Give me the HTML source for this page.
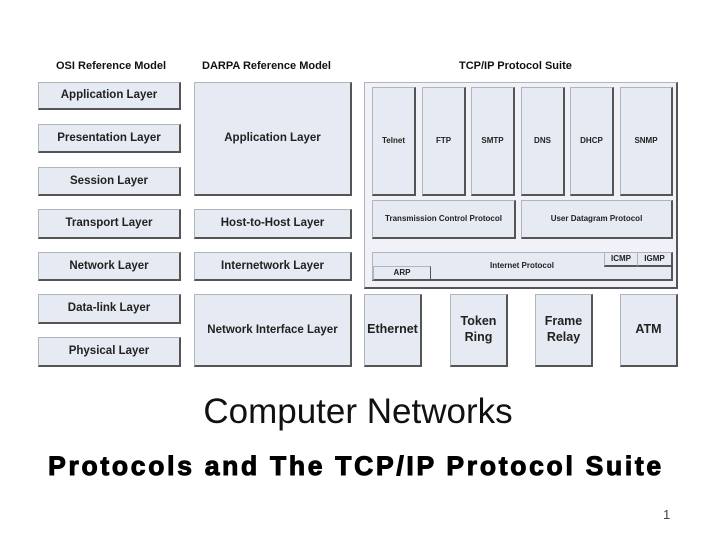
<!DOCTYPE html>
<html><head><style>
body{margin:0;width:720px;height:540px;background:#fff;position:relative;overflow:hidden;font-family:"Liberation Sans",Arial,sans-serif;}
.b{position:absolute;background:#e6eaf2;border:1px solid #b0b4bc;border-right:2px solid #555;border-bottom:2px solid #555;box-sizing:border-box;display:flex;align-items:center;justify-content:center;text-align:center;font-weight:bold;color:#222;font-size:11.5px;line-height:1.25;}
.s{font-size:8px;}
.m{font-size:12.5px;}
.t{position:absolute;font-weight:bold;font-size:11px;color:#111;}
</style></head><body>
<div class="t" style="left:56px;top:60px">OSI Reference Model</div>
<div class="t" style="left:202px;top:60px">DARPA Reference Model</div>
<div class="t" style="left:459px;top:60px">TCP/IP Protocol Suite</div>

<div class="b" style="left:38px;top:82px;width:143px;height:28px">Application Layer</div>
<div class="b" style="left:38px;top:124px;width:143px;height:29px">Presentation Layer</div>
<div class="b" style="left:38px;top:167px;width:143px;height:29px">Session Layer</div>
<div class="b" style="left:38px;top:209px;width:143px;height:30px">Transport Layer</div>
<div class="b" style="left:38px;top:252px;width:143px;height:29px">Network Layer</div>
<div class="b" style="left:38px;top:294px;width:143px;height:30px">Data-link Layer</div>
<div class="b" style="left:38px;top:337px;width:143px;height:30px">Physical Layer</div>

<div class="b" style="left:194px;top:82px;width:158px;height:114px">Application Layer</div>
<div class="b" style="left:194px;top:209px;width:158px;height:30px">Host-to-Host Layer</div>
<div class="b" style="left:194px;top:252px;width:158px;height:29px">Internetwork Layer</div>
<div class="b" style="left:194px;top:294px;width:158px;height:73px">Network Interface Layer</div>

<div class="b" style="left:364px;top:82px;width:314px;height:207px;background:#f0f2f7"></div>
<div class="b s" style="left:372px;top:87px;width:44px;height:109px">Telnet</div>
<div class="b s" style="left:422px;top:87px;width:44px;height:109px">FTP</div>
<div class="b s" style="left:471px;top:87px;width:44px;height:109px">SMTP</div>
<div class="b s" style="left:521px;top:87px;width:44px;height:109px">DNS</div>
<div class="b s" style="left:570px;top:87px;width:44px;height:109px">DHCP</div>
<div class="b s" style="left:620px;top:87px;width:53px;height:109px">SNMP</div>
<div class="b s" style="left:372px;top:200px;width:144px;height:39px">Transmission Control Protocol</div>
<div class="b s" style="left:521px;top:200px;width:152px;height:39px">User Datagram Protocol</div>
<div class="b s" style="left:372px;top:252px;width:301px;height:29px">Internet Protocol</div>
<div class="b s" style="left:604px;top:252px;width:34px;height:15px;border-right:1px solid #555">ICMP</div>
<div class="b s" style="left:637px;top:252px;width:36px;height:15px">IGMP</div>
<div class="b s" style="left:373px;top:266px;width:58px;height:15px;border-right:1px solid #555">ARP</div>

<div class="b m" style="left:364px;top:294px;width:58px;height:73px">Ethernet</div>
<div class="b m" style="left:450px;top:294px;width:58px;height:73px">Token<br>Ring</div>
<div class="b m" style="left:535px;top:294px;width:58px;height:73px">Frame<br>Relay</div>
<div class="b m" style="left:620px;top:294px;width:58px;height:73px">ATM</div>

<div style="position:absolute;left:0;width:716px;top:392px;text-align:center;font-size:35px;color:#111">Computer Networks</div>
<div style="position:absolute;left:0;width:712px;top:451px;text-align:center;font-size:26.5px;font-weight:900;letter-spacing:2.7px;color:#000;-webkit-text-stroke:1px #000">Protocols and The TCP/IP Protocol Suite</div>
<div style="position:absolute;left:663px;top:507px;font-size:13px;color:#444">1</div>
</body></html>
